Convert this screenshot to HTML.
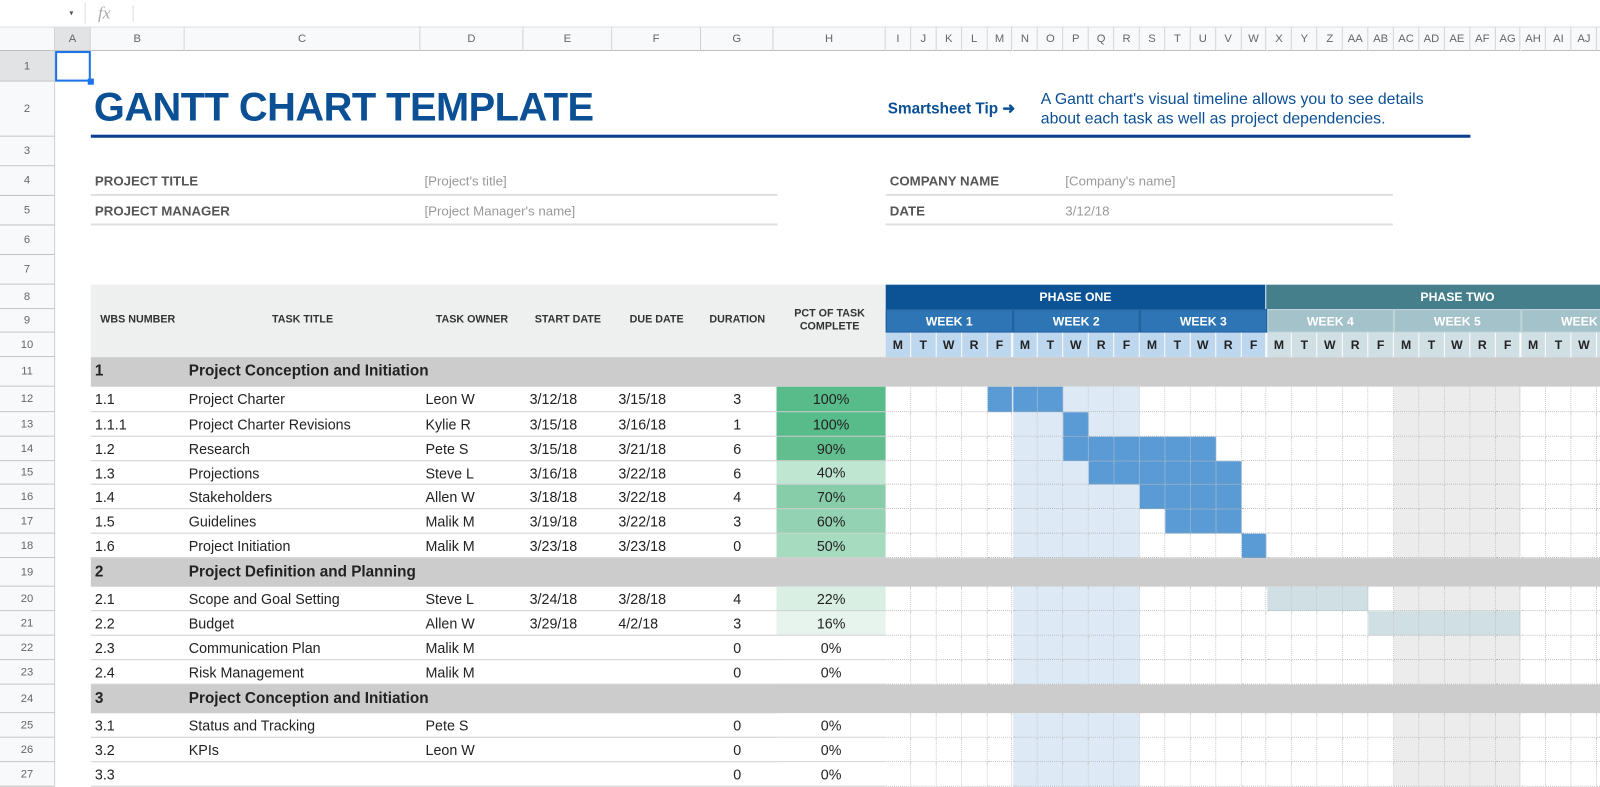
<!DOCTYPE html>
<html><head><meta charset="utf-8"><style>
body{margin:0;width:1600px;height:771px;overflow:hidden;background:#fff;font-family:"Liberation Sans",sans-serif;position:relative}
#wrap{position:absolute;left:0;top:0;width:1568px;height:756px;transform:scale(1.0204);transform-origin:0 0}
.a{position:absolute;box-sizing:border-box;white-space:nowrap}
.hd{background:#f8f9fa;color:#666;font-size:11px;text-align:center;border-right:1px solid #d0d0d0;border-bottom:1px solid #c0c0c0}
.t{font-size:14px;color:#222}
</style></head><body>
<div id="wrap">
<div class="a" style="left:0;top:0;width:1600px;height:27px;border-bottom:1px solid #ddd;background:#fff"></div>
<div class="a" style="left:68px;top:8px;font-size:8px;color:#555">▾</div>
<div class="a" style="left:83px;top:3px;height:20px;border-left:1px solid #ddd"></div>
<div class="a" style="left:96px;top:3px;font-size:17px;font-style:italic;color:#aaa;font-family:'Liberation Serif',serif">fx</div>
<div class="a" style="left:130px;top:5px;height:16px;border-left:1px solid #ddd"></div>
<div id="g"></div>
</div>
<script>
var g=document.getElementById('g'),h='';
function d(x,y,w,hh,st,tx,cl){h+='<div class="a '+(cl||'')+'" style="left:'+x+'px;top:'+y+'px;width:'+w+'px;height:'+hh+'px;'+(st||'')+'">'+(tx||'')+'</div>';}
var rows=[50,80,134,163,192,221,250,279,303,326,350,379,404,428,452,475,499,523,547,575,599,623,647,671,699,723,747,771];
var cols=[54,89,181,412,513,600,687,758,868];var names=['A','B','C','D','E','F','G','H'];
var DW=24.9;var L2=['I','J','K','L','M','N','O','P','Q','R','S','T','U','V','W','X','Y','Z','AA','AB','AC','AD','AE','AF','AG','AH','AI','AJ','AK'];
d(0,27,54,23,'','','hd');
for(var i=0;i<8;i++)d(cols[i],27,cols[i+1]-cols[i],23,'line-height:22px;'+(i==0?'background:#e2e3e5;':''),names[i],'hd');
for(var i=0;i<29;i++)d(868+i*DW,27,DW,23,'line-height:22px',L2[i],'hd');
for(var r=0;r<27;r++)d(0,rows[r],54,rows[r+1]-rows[r],'line-height:'+(rows[r+1]-rows[r])+'px;'+(r==0?'background:#e2e3e5;':''),r+1,'hd');
d(54,50,35,30,'border:2px solid #1a73e8');d(86,77,6,6,'background:#1a73e8');
d(92,84,600,50,'font-size:39px;font-weight:bold;color:#0b4f95;letter-spacing:-0.5px','GANTT CHART TEMPLATE');
d(89,132,1352,3,'background:#0b3f8f');
d(870,97,200,20,'font-size:15px;font-weight:bold;color:#0b4f95','Smartsheet Tip ➜');
d(1020,88,410,40,'font-size:15.5px;color:#0b4f95;line-height:19px;white-space:normal','A Gantt chart\'s visual timeline allows you to see details about each task as well as project dependencies.');
function info(x,y,w,lab,val,vx){d(x,y,w,29,'border-bottom:2px solid #e0e0e0');d(x+4,y+7,200,16,'font-size:13px;font-weight:bold;color:#555',lab);d(vx,y+7,250,16,'font-size:13px;color:#999',val);}
info(89,163,673,'PROJECT TITLE','[Project\'s title]',416);
info(89,192,673,'PROJECT MANAGER','[Project Manager\'s name]',416);
info(868,163,497,'COMPANY NAME','[Company\'s name]',1044);
info(868,192,497,'DATE','3/12/18',1044);
d(89,279,779,71,'background:#eeefef');
var hx=[[89,181,'WBS NUMBER'],[181,412,'TASK TITLE'],[412,513,'TASK OWNER'],[513,600,'START DATE'],[600,687,'DUE DATE'],[687,758,'DURATION']];
hx.forEach(function(c){d(c[0],307,c[1]-c[0],14,'text-align:center;font-size:10.5px;font-weight:bold;color:#333',c[2]);});
d(758,301,110,30,'text-align:center;font-size:10.5px;font-weight:bold;color:#333;line-height:13px;white-space:normal','PCT OF TASK<br>COMPLETE');
d(868,279,373,24,'background:#0b5394;color:#fff;font-size:12px;font-weight:bold;text-align:center;line-height:24px;border-right:1px solid #fff','PHASE ONE');
d(1241,279,400,24,'background:#457f8c;color:#fff;font-size:12px;font-weight:bold;text-align:left;padding-left:151px;line-height:24px','PHASE TWO');
for(var w=0;w<6;w++){var c1=w<3?'#2e75b6':'#a4c2c9';d(868+w*5*DW,303,5*DW,23,'background:'+c1+';color:#fff;font-size:12px;font-weight:bold;text-align:center;line-height:23px;border:1px solid '+(w<3?'#1d5a99':'#c0d6db'),'WEEK '+(w+1));}
var dn=['M','T','W','R','F'];
for(var i=0;i<29;i++)d(868+i*DW,326,DW,24,'background:'+(i<15?'#bdd7ee':'#d0dfe3')+';border-right:1px solid #fff;font-size:12px;font-weight:bold;text-align:center;line-height:24px;color:#222',dn[i%5]);
var data=[
['S','1','Project Conception and Initiation'],
['1.1','Project Charter','Leon W','3/12/18','3/15/18','3','100%','#57bb8a',[4,6]],
['1.1.1','Project Charter Revisions','Kylie R','3/15/18','3/16/18','1','100%','#57bb8a',[7,7]],
['1.2','Research','Pete S','3/15/18','3/21/18','6','90%','#63be8f',[7,12]],
['1.3','Projections','Steve L','3/16/18','3/22/18','6','40%','#bfe6d1',[8,13]],
['1.4','Stakeholders','Allen W','3/18/18','3/22/18','4','70%','#88cda9',[10,13]],
['1.5','Guidelines','Malik M','3/19/18','3/22/18','3','60%','#93d2b2',[11,13]],
['1.6','Project Initiation','Malik M','3/23/18','3/23/18','0','50%','#a7dbc0',[14,14]],
['S','2','Project Definition and Planning'],
['2.1','Scope and Goal Setting','Steve L','3/24/18','3/28/18','4','22%','#d9efe3',[15,18],1],
['2.2','Budget','Allen W','3/29/18','4/2/18','3','16%','#e6f4ed',[19,24],1],
['2.3','Communication Plan','Malik M','','','0','0%','#fff'],
['2.4','Risk Management','Malik M','','','0','0%','#fff'],
['S','3','Project Conception and Initiation'],
['3.1','Status and Tracking','Pete S','','','0','0%','#fff'],
['3.2','KPIs','Leon W','','','0','0%','#fff'],
['3.3','','','','','0','0%','#fff']];
for(var k=0;k<data.length;k++){var r=k+10,y=rows[r],hh=rows[r+1]-y,e=data[k];
if(e[0]=='S'){d(89,y,1511,hh,'background:#cccccc');d(93,y+5,80,20,'font-size:15px;font-weight:bold;color:#222',e[1]);d(185,y+5,400,20,'font-size:15px;font-weight:bold;color:#222',e[2]);continue;}
d(89,y,779,hh,'border-bottom:1px solid #cfcfcf');
d(93,y+4,85,18,'',e[0],'t');d(185,y+4,225,18,'',e[1],'t');d(417,y+4,95,18,'',e[2],'t');d(519,y+4,80,18,'',e[3],'t');d(606,y+4,80,18,'',e[4],'t');
d(687,y+4,71,18,'text-align:center',e[5],'t');
d(761,y,107,hh,'background:'+e[7]+';text-align:center;line-height:'+hh+'px;border-bottom:1px solid #cfcfcf',e[6],'t');
for(var i=0;i<29;i++){var bg='#fff';if(i>=5&&i<=9)bg='#dde9f5';if(i>=20&&i<=24)bg='#ececec';
if(e[8]&&i>=e[8][0]&&i<=e[8][1])bg=e[9]?'#d0dfe3':'#5b9bd5';
d(868+i*DW,y,DW,hh,'background:'+bg+';border-right:1px dotted #bbb;border-bottom:1px dotted #aaa');}}
g.innerHTML=h;
</script>
</body></html>
